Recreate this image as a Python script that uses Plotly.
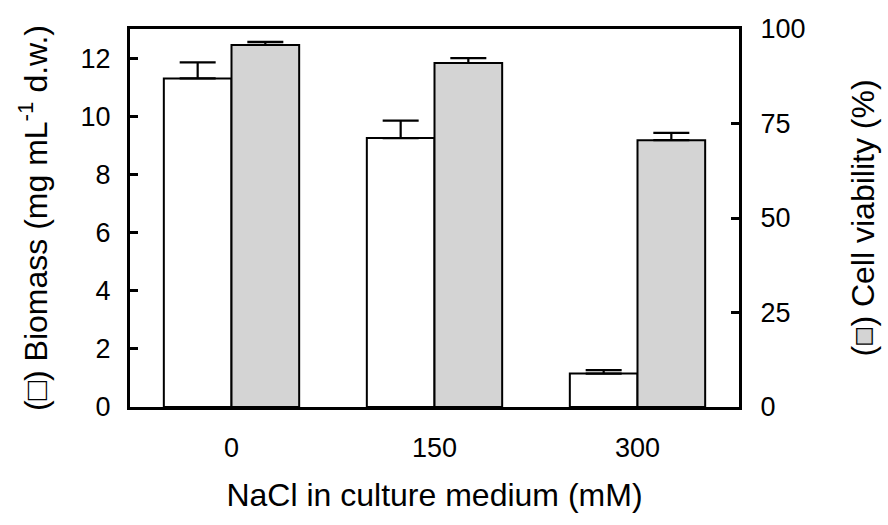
import plotly.graph_objects as go

categories = ["0", "150", "300"]
biomass = [11.3, 9.25, 1.15]
biomass_err = [0.55, 0.6, 0.12]
viability = [95.8, 91.0, 70.6]
viability_err = [0.8, 1.3, 1.9]

xpos = list(range(len(categories)))
FONT = "Liberation Sans, Arial, sans-serif"
BW = 1 / 3

fig = go.Figure()
fig.add_trace(go.Bar(
    x=xpos, y=biomass, width=BW, offset=-BW,
    marker=dict(color="white", line=dict(color="black", width=2)),
    error_y=dict(type="data", array=biomass_err, arrayminus=[0] * 3, symmetric=False,
                 color="black", thickness=2.2, width=18),
    yaxis="y", showlegend=False,
))
fig.add_trace(go.Bar(
    x=xpos, y=viability, width=BW, offset=0,
    marker=dict(color="#d4d4d4", line=dict(color="black", width=2)),
    error_y=dict(type="data", array=viability_err, arrayminus=[0] * 3, symmetric=False,
                 color="black", thickness=2.2, width=18),
    yaxis="y2", showlegend=False,
))

gray_box = "<span style='fill:#d4d4d4;stroke:black;stroke-width:1.3px'>■</span>"

fig.update_layout(
    width=888, height=525, autosize=False,
    margin=dict(l=130, r=146, t=29, b=118),
    paper_bgcolor="white", plot_bgcolor="white",
    font=dict(family=FONT, size=27, color="black"),
    xaxis=dict(
        range=[-0.5, 2.5], tickvals=xpos, ticktext=categories,
        showline=True, linecolor="black", linewidth=3, mirror=True,
        ticks="", showgrid=False, zeroline=False, ticklabelstandoff=15,
        title=dict(text="NaCl in culture medium (mM)", standoff=22),
    ),
    yaxis=dict(
        range=[0, 13], tickvals=[0, 2, 4, 6, 8, 10, 12],
        showline=True, linecolor="black", linewidth=3,
        ticks="inside", ticklen=8, tickwidth=2.5, tickcolor="black",
        showgrid=False, zeroline=False, ticklabelstandoff=11,
        title=dict(text="(□) Biomass (mg mL<sup>-1</sup> d.w.)", standoff=24),
    ),
    yaxis2=dict(
        range=[0, 100], tickvals=[0, 25, 50, 75, 100], overlaying="y", side="right",
        showline=True, linecolor="black", linewidth=3,
        ticks="inside", ticklen=8, tickwidth=2.5, tickcolor="black",
        showgrid=False, zeroline=False, ticklabelstandoff=13,
        title=dict(text="(" + gray_box + ") Cell viability (%)", standoff=48),
    ),
)

fig.write_html("out.html")
